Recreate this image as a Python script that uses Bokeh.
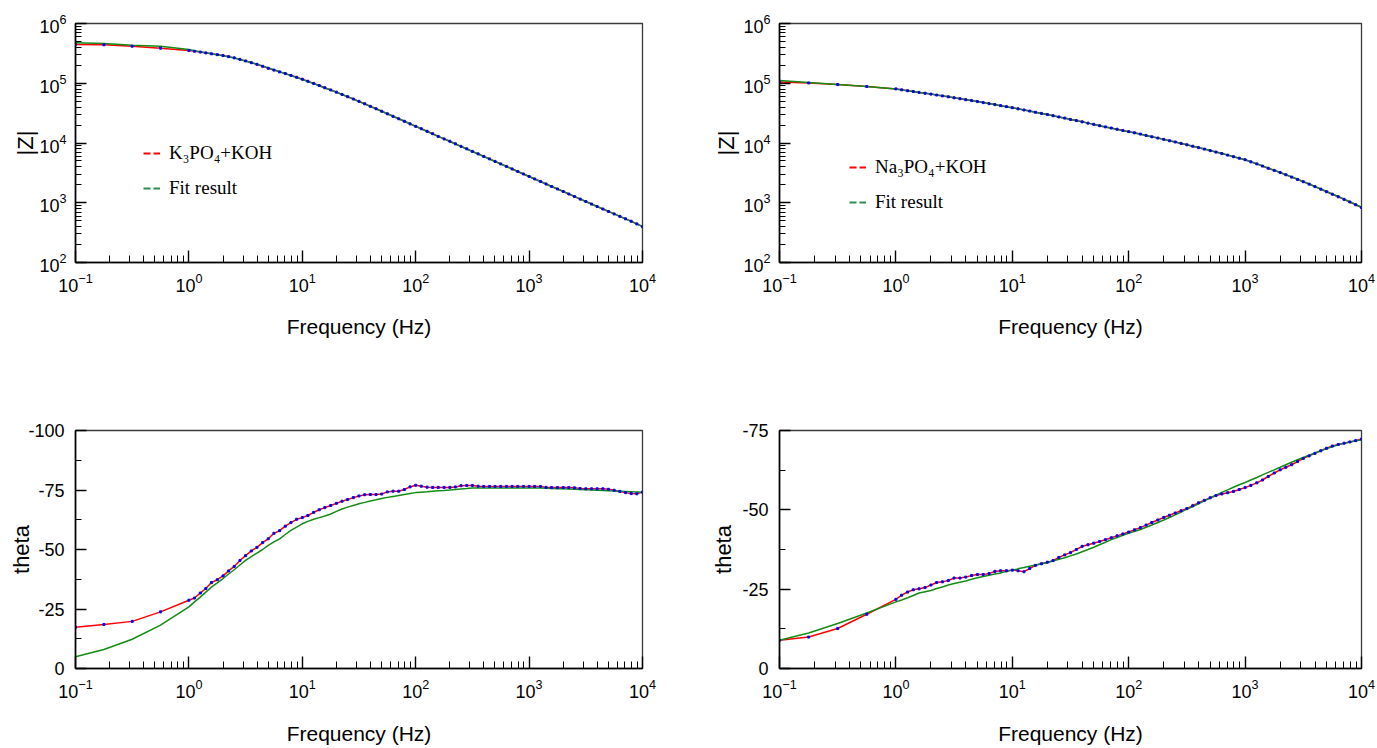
import numpy as np
from bokeh.plotting import figure
from bokeh.layouts import column, row
from bokeh.models import Range1d, FixedTicker, Legend, LegendItem
from bokeh.embed import file_html
from bokeh.resources import INLINE

# ---------------- data ----------------
freq = [0.1, 0.178, 0.316, 0.562,
        1.0, 1.12, 1.26, 1.41, 1.58, 1.78, 2.0, 2.24, 2.51, 2.82, 3.16, 3.55, 3.98, 4.47, 5.01, 5.62, 6.31, 7.08, 7.94, 8.91,
        10.0, 11.2, 12.6, 14.1, 15.8, 17.8, 20.0, 22.4, 25.1, 28.2, 31.6, 35.5, 39.8, 44.7, 50.1, 56.2, 63.1, 70.8, 79.4, 89.1,
        100, 112, 126, 141, 158, 178, 200, 224, 251, 282, 316, 355, 398, 447, 501, 562, 631, 708, 794, 891,
        1000, 1120, 1260, 1410, 1580, 1780, 2000, 2240, 2510, 2820, 3160, 3550, 3980, 4470, 5010, 5620, 6310, 7080, 7940, 8910,
        10000]

k_z_data = [4.46e5, 4.40e5, 4.17e5, 3.86e5,
            3.53e5, 3.43e5, 3.33e5, 3.22e5, 3.11e5, 3.01e5, 2.91e5, 2.79e5, 2.66e5, 2.51e5, 2.36e5, 2.21e5, 2.07e5, 1.92e5, 1.78e5, 1.66e5, 1.55e5, 1.45e5, 1.35e5, 1.26e5,
            1.17e5, 1.08e5, 9.95e4, 9.16e4, 8.41e4, 7.73e4, 7.10e4, 6.50e4, 5.96e4, 5.45e4, 4.98e4, 4.53e4, 4.11e4, 3.74e4, 3.40e4, 3.08e4, 2.80e4, 2.54e4, 2.31e4, 2.09e4,
            1.90e4, 1.73e4, 1.57e4, 1.43e4, 1.29e4, 1.17e4, 1.07e4, 9.68e3, 8.79e3, 7.98e3, 7.24e3, 6.58e3, 5.97e3, 5.42e3, 4.92e3, 4.47e3, 4.06e3, 3.68e3, 3.34e3, 3.03e3,
            2.75e3, 2.50e3, 2.27e3, 2.06e3, 1.87e3, 1.70e3, 1.54e3, 1.40e3, 1.27e3, 1.15e3, 1.05e3, 951, 863, 785, 714, 650, 592, 538, 490, 443,
            398]

k_z_fit = [4.76e5, 4.62e5, 4.34e5, 4.17e5,
           3.67e5, 3.50e5, 3.36e5, 3.23e5, 3.11e5, 3.00e5, 2.89e5, 2.77e5, 2.64e5, 2.50e5, 2.36e5, 2.22e5, 2.08e5, 1.94e5, 1.81e5, 1.68e5, 1.56e5, 1.45e5, 1.35e5, 1.25e5,
           1.16e5, 1.07e5, 9.85e4, 9.07e4, 8.34e4, 7.67e4, 7.05e4, 6.47e4, 5.93e4, 5.43e4, 4.96e4, 4.52e4, 4.11e4, 3.74e4, 3.40e4, 3.09e4, 2.81e4, 2.55e4, 2.31e4, 2.10e4,
           1.90e4, 1.72e4, 1.56e4, 1.42e4, 1.29e4, 1.17e4, 1.06e4, 9.62e3, 8.74e3, 7.94e3, 7.21e3, 6.55e3, 5.95e3, 5.40e3, 4.91e3, 4.46e3, 4.05e3, 3.68e3, 3.34e3, 3.03e3,
           2.75e3, 2.50e3, 2.27e3, 2.06e3, 1.87e3, 1.70e3, 1.55e3, 1.41e3, 1.28e3, 1.16e3, 1.05e3, 955, 867, 788, 716, 651, 592, 538, 489, 444,
           400]

na_z_data = [1.05e5, 1.01e5, 9.51e4, 8.81e4,
             8.05e4, 7.76e4, 7.50e4, 7.26e4, 7.03e4, 6.81e4, 6.58e4, 6.35e4, 6.14e4, 5.93e4, 5.71e4, 5.51e4, 5.31e4, 5.12e4, 4.93e4, 4.74e4, 4.56e4, 4.39e4, 4.22e4, 4.06e4,
             3.90e4, 3.73e4, 3.57e4, 3.42e4, 3.27e4, 3.13e4, 2.99e4, 2.86e4, 2.73e4, 2.61e4, 2.48e4, 2.37e4, 2.26e4, 2.15e4, 2.05e4, 1.95e4, 1.86e4, 1.78e4, 1.70e4, 1.62e4,
             1.55e4, 1.48e4, 1.41e4, 1.34e4, 1.27e4, 1.21e4, 1.15e4, 1.09e4, 1.04e4, 9.84e3, 9.33e3, 8.83e3, 8.36e3, 7.91e3, 7.46e3, 7.05e3, 6.65e3, 6.27e3, 5.90e3, 5.57e3,
             5.25e3, 4.84e3, 4.47e3, 4.11e3, 3.78e3, 3.48e3, 3.20e3, 2.94e3, 2.69e3, 2.46e3, 2.25e3, 2.05e3, 1.86e3, 1.69e3, 1.53e3, 1.39e3, 1.26e3, 1.14e3, 1.03e3, 925,
             832]

na_z_fit = [1.11e5, 1.03e5, 9.55e4, 8.80e4,
            8.02e4, 7.74e4, 7.48e4, 7.25e4, 7.02e4, 6.80e4, 6.58e4, 6.36e4, 6.15e4, 5.94e4, 5.73e4, 5.53e4, 5.33e4, 5.13e4, 4.94e4, 4.75e4, 4.57e4, 4.39e4, 4.22e4, 4.05e4,
            3.89e4, 3.73e4, 3.57e4, 3.42e4, 3.27e4, 3.13e4, 2.99e4, 2.86e4, 2.73e4, 2.60e4, 2.48e4, 2.37e4, 2.26e4, 2.15e4, 2.05e4, 1.95e4, 1.86e4, 1.77e4, 1.69e4, 1.61e4,
            1.54e4, 1.47e4, 1.40e4, 1.33e4, 1.27e4, 1.21e4, 1.15e4, 1.09e4, 1.04e4, 9.85e3, 9.34e3, 8.85e3, 8.38e3, 7.93e3, 7.49e3, 7.07e3, 6.67e3, 6.28e3, 5.91e3, 5.57e3,
            5.25e3, 4.86e3, 4.49e3, 4.13e3, 3.80e3, 3.49e3, 3.21e3, 2.95e3, 2.70e3, 2.47e3, 2.26e3, 2.06e3, 1.87e3, 1.70e3, 1.54e3, 1.40e3, 1.27e3, 1.15e3, 1.04e3, 935,
            840]

k_theta_data = [-17.3, -18.5, -19.8, -23.8,
                -28.7, -29.6, -31.7, -33.6, -36.1, -37.3, -38.9, -41.0, -42.9, -45.4, -47.4, -49.4, -50.9, -52.9, -54.5, -56.8, -57.9, -59.8, -61.3, -62.7,
                -63.4, -64.3, -65.6, -66.7, -67.6, -68.5, -69.4, -70.3, -71.0, -71.8, -72.5, -73.0, -73.1, -73.1, -73.3, -74.2, -74.5, -74.5, -75.2, -76.3,
                -77.0, -76.6, -76.2, -76.1, -76.1, -76.1, -76.1, -76.3, -76.8, -76.9, -76.9, -76.6, -76.5, -76.5, -76.5, -76.5, -76.5, -76.5, -76.5, -76.5,
                -76.5, -76.5, -76.5, -76.1, -76.0, -76.0, -76.0, -76.0, -75.9, -75.6, -75.5, -75.5, -75.5, -75.5, -75.3, -74.9, -74.4, -73.9, -73.5, -73.4,
                -74.1]

k_theta_fit = [-4.9, -8.0, -12.3, -18.2,
               -25.9, -28.0, -30.0, -32.1, -34.2, -36.0, -37.8, -39.7, -41.5, -43.5, -45.4, -47.0, -48.5, -50.0, -51.7, -53.2, -54.5, -56.3, -58.0, -59.4,
               -60.8, -61.8, -62.7, -63.4, -64.1, -64.9, -66.0, -67.0, -67.8, -68.5, -69.2, -69.8, -70.4, -70.9, -71.4, -71.9, -72.3, -72.7, -73.1, -73.5,
               -73.9, -74.1, -74.3, -74.5, -74.7, -74.8, -75.0, -75.2, -75.4, -75.6, -75.8, -75.8, -75.8, -75.8, -75.8, -75.8, -75.8, -75.8, -75.8, -75.8,
               -75.8, -75.8, -75.8, -75.7, -75.6, -75.5, -75.5, -75.4, -75.3, -75.2, -75.1, -75.0, -74.9, -74.8, -74.7, -74.6, -74.5, -74.4, -74.3, -74.2,
               -74.1]

na_theta_data = [-8.9, -9.9, -12.6, -17.1,
                 -21.8, -23.1, -24.1, -24.8, -25.1, -25.5, -26.3, -27.1, -27.3, -27.7, -28.5, -28.5, -28.8, -29.3, -29.6, -29.6, -29.9, -30.6, -30.8, -30.8,
                 -31.0, -30.8, -30.5, -31.5, -32.5, -33.0, -33.5, -34.0, -35.0, -35.8, -36.5, -37.5, -38.5, -39.0, -39.5, -40.0, -40.6, -41.2, -41.8, -42.4,
                 -43.0, -43.7, -44.4, -45.2, -46.0, -46.8, -47.6, -48.3, -49.0, -49.7, -50.4, -51.3, -52.2, -53.0, -53.8, -54.5, -55.0, -55.4, -55.8, -56.4,
                 -57.0, -57.7, -58.5, -59.4, -60.5, -61.6, -62.6, -63.4, -64.2, -65.2, -66.2, -67.0, -67.8, -68.6, -69.4, -70.1, -70.6, -71.0, -71.4, -71.8,
                 -72.3]

na_theta_fit = [-8.9, -11.2, -14.2, -17.5,
                -21.0, -21.6, -22.3, -23.0, -23.8, -24.2, -24.6, -25.2, -25.7, -26.3, -26.8, -27.2, -27.6, -28.1, -28.6, -29.0, -29.4, -29.8, -30.1, -30.6,
                -31.0, -31.4, -31.8, -32.2, -32.6, -33.0, -33.4, -33.9, -34.4, -34.9, -35.5, -36.1, -36.8, -37.5, -38.2, -39.0, -39.8, -40.6, -41.3, -42.0,
                -42.6, -43.2, -43.8, -44.5, -45.2, -46.0, -46.8, -47.6, -48.4, -49.3, -50.2, -51.0, -51.9, -52.8, -53.7, -54.6, -55.5, -56.3, -57.1, -57.9,
                -58.6, -59.4, -60.2, -61.0, -61.8, -62.6, -63.4, -64.2, -65.0, -65.8, -66.5, -67.2, -67.9, -68.6, -69.3, -69.9, -70.5, -71.0, -71.4, -71.8,
                -72.0]

z_range = [1e2, 1e6]
k_theta_range = [0, -100]
na_theta_range = [0, -75]
k_theta_ticks = [0, -25, -50, -75, -100]
k_theta_minor = [-12.5, -37.5, -62.5, -87.5]
na_theta_ticks = [0, -25, -50, -75]
na_theta_minor = [-12.5, -37.5, -62.5]

legend_k = "K\u2083PO\u2084+KOH"
legend_na = "Na\u2083PO\u2084+KOH"
legend_fit = "Fit result"

# ---------------- style ----------------
RED = "#ff0000"
GREEN = "#148c14"
LEG_GREEN = "#2e8b57"
BLUE = "#0000ff"
SANS = "Liberation Sans"
SERIF = "Liberation Serif"


def make_fig(fw, fh, bl, br, bt, bb, log_y, yr, ylabel, ylab_standoff, y_std, xlab_standoff):
    p = figure(frame_width=fw, frame_height=fh,
               min_border_left=bl, min_border_right=br, min_border_top=bt, min_border_bottom=bb,
               x_axis_type="log", y_axis_type="log" if log_y else "linear",
               x_range=Range1d(freq[0], freq[-1]), y_range=Range1d(yr[0], yr[1]),
               output_backend="svg", toolbar_location=None, tools="")
    p.grid.visible = False
    p.outline_line_color = "#3a3a3a"
    p.outline_line_width = 1.3
    p.background_fill_color = "white"
    p.border_fill_color = "white"
    for ax in p.xaxis + p.yaxis:
        ax.axis_line_color = "black"
        ax.axis_line_width = 1.6
        ax.major_tick_out = 0
        ax.minor_tick_out = 0
        ax.major_tick_line_color = "black"
        ax.minor_tick_line_color = "black"
        ax.major_tick_line_width = 1.4
        ax.minor_tick_line_width = 1.0
        ax.major_label_text_font = SANS
        ax.major_label_text_font_size = "18px"
        ax.major_label_text_color = "black"
        ax.axis_label_text_font = SANS
        ax.axis_label_text_font_style = "normal"
        ax.axis_label_text_color = "black"
    xa = p.xaxis[0]
    xa.major_tick_in = 12
    xa.minor_tick_in = 7
    xa.ticker.num_minor_ticks = 10
    xa.major_label_standoff = 10
    xa.axis_label = "Frequency (Hz)"
    xa.axis_label_text_font_size = "21px"
    xa.axis_label_standoff = xlab_standoff
    ya = p.yaxis[0]
    ya.major_tick_in = 11
    ya.minor_tick_in = 6
    ya.major_label_standoff = y_std
    ya.axis_label = ylabel
    ya.axis_label_text_font_size = "22px"
    ya.axis_label_standoff = ylab_standoff
    if log_y:
        ya.ticker.num_minor_ticks = 10
    return p


def add_legend(p, label, loc):
    r1 = p.line(x=np.array([np.nan]), y=np.array([np.nan]), line_color=RED, line_width=2, line_dash="7 3")
    r2 = p.line(x=np.array([np.nan]), y=np.array([np.nan]), line_color=LEG_GREEN, line_width=2, line_dash="7 3")
    lg = Legend(items=[LegendItem(label=label, renderers=[r1]),
                       LegendItem(label=legend_fit, renderers=[r2])],
                location=loc, orientation="vertical",
                glyph_width=17, glyph_height=22, label_height=22, label_standoff=9,
                spacing=13, padding=0, margin=0,
                border_line_alpha=0, background_fill_alpha=0,
                label_text_font=SERIF, label_text_font_size="19px", label_text_color="black")
    p.add_layout(lg, "center")


def draw(p, data, fit):
    p.line(freq, data, line_color=RED, line_width=1.5)
    p.line(freq, fit, line_color=GREEN, line_width=1.5)
    p.scatter(freq, data, marker="square", size=2, color=BLUE)


def theta_ticks(p, ticks, minor):
    ya = p.yaxis[0]
    ya.ticker = FixedTicker(ticks=ticks, minor_ticks=minor)
    ya.major_label_overrides = {t: str(t) for t in ticks}


# top-left: |Z| K3PO4
p1 = make_fig(567, 239, 75, 58, 23, 84, True, z_range, "|Z|", -2, 9, 20)
draw(p1, k_z_data, k_z_fit)
add_legend(p1, legend_k, (68, 63))

# top-right: |Z| Na3PO4
p2 = make_fig(582, 239, 79, 16, 23, 84, True, z_range, "|Z|", 1, 9, 20)
draw(p2, na_z_data, na_z_fit)
add_legend(p2, legend_na, (70, 49))

# bottom-left: theta K3PO4
p3 = make_fig(567, 238, 75, 58, 84, 80, False, k_theta_range, "theta", -9, 11, 21)
theta_ticks(p3, k_theta_ticks, k_theta_minor)
draw(p3, k_theta_data, k_theta_fit)

# bottom-right: theta Na3PO4
p4 = make_fig(582, 238, 79, 16, 84, 80, False, na_theta_range, "theta", 3, 11, 21)
theta_ticks(p4, na_theta_ticks, na_theta_minor)
draw(p4, na_theta_data, na_theta_fit)

layout = column(row(p1, p2), row(p3, p4))
open("out.html", "w").write(file_html(layout, INLINE))
